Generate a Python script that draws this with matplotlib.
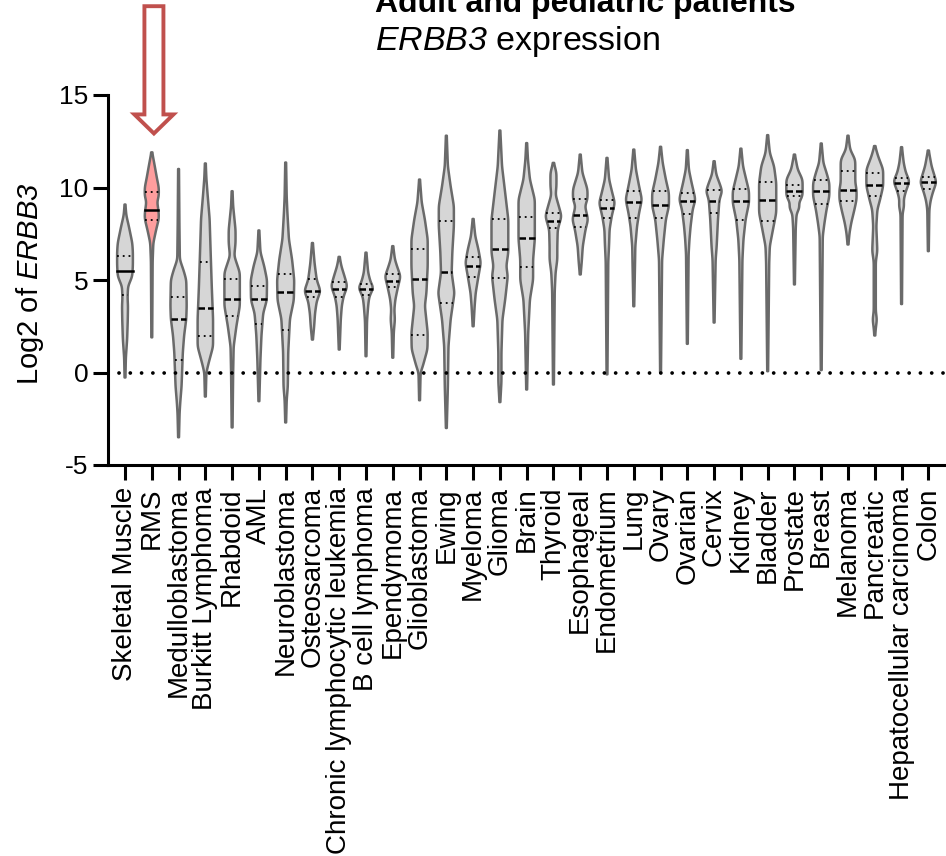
import numpy as np
import matplotlib
matplotlib.use('Agg')
import matplotlib.pyplot as plt
from matplotlib.patches import FancyArrow

plt.rcParams['font.family'] = ['Liberation Sans', 'DejaVu Sans']
plt.rcParams['mathtext.fontset'] = 'custom'
plt.rcParams['mathtext.rm'] = 'Liberation Sans:italic'
plt.rcParams['mathtext.it'] = 'Liberation Sans:italic'
plt.rcParams['mathtext.bf'] = 'Liberation Sans:bold'

# ---------------- data ----------------
categories = ["Skeletal Muscle", "RMS", "Medulloblastoma", "Burkitt Lymphoma", "Rhabdoid",
              "AML", "Neuroblastoma", "Osteosarcoma", "Chronic lymphocytic leukemia",
              "B cell lymphoma", "Ependymoma", "Glioblastoma", "Ewing", "Myeloma", "Glioma",
              "Brain", "Thyroid", "Esophageal", "Endometrium", "Lung", "Ovary", "Ovarian",
              "Cervix", "Kidney", "Bladder", "Prostate", "Breast", "Melanoma", "Pancreatic",
              "Hepatocellular carcinoma", "Colon"]

medians = [5.46, 8.8, 2.9, 3.5, 4.0, 4.0, 4.34, 4.38, 4.52, 4.52, 4.94, 5.03, 5.42, 5.75, 6.65,
           7.28, 8.2, 8.49, 8.9, 9.2, 9.08, 9.26, 9.26, 9.26, 9.33, 9.8, 9.8, 9.86, 10.16, 10.25, 10.29]
q1 = [4.2, 8.23, 0.65, 1.96, 3.08, 2.6, 2.3, 4.07, 4.1, 4.2, 4.6, 2.05, 3.77, 5.15, 5.1,
      5.7, 7.8, 7.86, 8.36, 8.36, 8.36, 8.58, 8.6, 8.27, 8.18, 9.53, 9.12, 9.26, 9.53, 9.8, 9.93]
q3 = [6.32, 9.75, 4.07, 5.96, 5.08, 4.7, 5.35, 5.08, 4.9, 4.77, 5.33, 6.65, 8.18, 6.25, 8.3,
      8.4, 8.63, 9.39, 9.3, 9.8, 9.8, 9.68, 9.84, 9.9, 10.3, 10.14, 10.38, 10.88, 10.8, 10.52, 10.58]

# density profiles: (log2 value, relative density); first/last entries are max/min
profiles = [
    [(9.08,0.05),(8.5,0.15),(7.9,0.45),(7.0,0.85),(6.5,0.92),(5.8,0.92),(5.2,0.85),(4.65,0.35),(4.0,0.3),(3.6,0.35),(2.8,0.32),(1.8,0.25),(0.8,0.1),(-0.27,0.05)],
    [(11.9,0.05),(11.15,0.35),(10.5,0.6),(10.0,0.82),(9.5,0.82),(9.26,0.62),(8.6,0.82),(8.3,0.82),(7.7,0.5),(7.0,0.18),(6.0,0.1),(1.9,0.05)],
    [(11.0,0.05),(8.0,0.1),(6.1,0.15),(5.5,0.6),(5.0,0.9),(3.6,0.95),(2.9,0.9),(2.0,0.65),(1.1,0.5),(-0.75,0.35),(-1.6,0.2),(-2.2,0.12),(-3.5,0.05)],
    [(11.3,0.05),(10.5,0.12),(9.7,0.25),(8.3,0.5),(6.5,0.62),(4.65,0.75),(2.9,0.9),(1.4,0.9),(0.54,0.4),(0.0,0.12),(-1.3,0.05)],
    [(9.8,0.05),(9.0,0.12),(7.7,0.4),(7.0,0.4),(6.3,0.25),(5.4,0.9),(3.6,0.9),(2.5,0.5),(1.4,0.18),(0.0,0.12),(-2.97,0.05)],
    [(7.68,0.05),(6.5,0.18),(5.75,0.62),(5.0,0.95),(3.9,0.92),(3.2,0.5),(2.0,0.3),(0.7,0.18),(-1.55,0.05)],
    [(11.35,0.05),(9.5,0.12),(8.65,0.2),(7.2,0.38),(6.1,0.75),(5.0,1.0),(3.9,0.95),(2.9,0.5),(1.1,0.3),(-0.75,0.25),(-1.5,0.12),(-2.7,0.05)],
    [(7.0,0.05),(5.9,0.25),(5.0,0.5),(4.4,0.95),(3.85,0.5),(3.2,0.3),(2.5,0.2),(2.1,0.12),(1.78,0.05)],
    [(6.25,0.05),(5.75,0.25),(5.2,0.62),(4.66,0.95),(4.1,0.5),(3.6,0.3),(2.86,0.18),(1.24,0.05)],
    [(6.48,0.05),(5.4,0.25),(4.86,0.55),(4.6,0.9),(4.1,0.38),(3.6,0.25),(2.8,0.12),(0.88,0.05)],
    [(6.83,0.05),(6.1,0.25),(5.57,0.62),(5.2,0.92),(4.66,0.62),(3.95,0.3),(3.4,0.18),(2.86,0.25),(2.2,0.12),(0.8,0.05)],
    [(10.43,0.05),(9.2,0.25),(8.27,0.62),(7.2,0.95),(5.75,0.95),(4.3,0.8),(3.6,0.62),(2.15,0.95),(1.25,0.92),(0.34,0.38),(0.0,0.12),(-1.5,0.05)],
    [(12.8,0.05),(11.15,0.18),(10.07,0.5),(9.0,0.88),(7.9,0.88),(6.5,0.7),(5.4,0.62),(4.3,0.95),(2.86,0.5),(1.42,0.25),(-0.74,0.18),(-3.0,0.05)],
    [(8.3,0.05),(7.37,0.25),(6.65,0.62),(5.93,0.9),(5.2,0.62),(4.3,0.3),(3.6,0.18),(2.5,0.05)],
    [(13.08,0.05),(11.15,0.25),(9.7,0.62),(8.27,0.98),(6.48,0.98),(5.75,0.75),(5.2,0.92),(3.95,0.62),(2.86,0.3),(1.06,0.18),(-0.5,0.18),(-1.6,0.05)],
    [(12.4,0.05),(11.5,0.15),(10.43,0.38),(9.35,0.95),(7.2,0.95),(6.1,0.75),(5.0,0.75),(3.95,0.38),(2.15,0.18),(-0.92,0.05)],
    [(11.33,0.05),(10.8,0.35),(10.07,0.35),(9.6,0.25),(9.0,0.62),(8.45,0.95),(7.73,0.5),(6.8,0.45),(6.1,0.45),(5.4,0.25),(4.4,0.15),(-0.65,0.05)],
    [(11.78,0.05),(10.8,0.25),(9.9,0.85),(9.35,0.85),(9.0,0.55),(8.27,0.92),(7.73,0.62),(6.83,0.3),(6.0,0.18),(5.3,0.05)],
    [(11.6,0.05),(10.43,0.25),(9.7,0.62),(9.17,0.92),(8.45,0.55),(7.73,0.3),(7.0,0.25),(6.0,0.15),(-0.1,0.05)],
    [(12.05,0.05),(10.97,0.25),(10.07,0.62),(9.35,0.95),(8.63,0.62),(7.9,0.38),(6.83,0.18),(6.0,0.15),(3.58,0.05)],
    [(12.2,0.05),(11.33,0.25),(10.43,0.62),(9.7,0.98),(9.0,0.98),(8.27,0.62),(7.2,0.38),(6.1,0.18),(0.0,0.05)],
    [(12.02,0.05),(10.97,0.18),(10.25,0.5),(9.35,0.95),(8.8,0.62),(7.9,0.38),(7.2,0.25),(6.4,0.15),(1.55,0.05)],
    [(11.42,0.05),(10.7,0.25),(10.25,0.62),(9.8,0.95),(9.35,0.62),(8.27,0.45),(6.83,0.3),(6.1,0.18),(2.7,0.05)],
    [(12.1,0.05),(11.15,0.25),(10.43,0.62),(9.8,0.95),(9.17,0.95),(8.27,0.55),(7.2,0.3),(6.1,0.18),(0.74,0.05)],
    [(12.83,0.05),(11.87,0.25),(11.15,0.75),(10.25,1.0),(8.63,1.0),(7.73,0.62),(6.83,0.25),(5.93,0.18),(0.07,0.05)],
    [(11.78,0.05),(10.97,0.38),(10.43,0.95),(9.53,0.95),(9.17,0.5),(8.9,0.62),(8.6,0.25),(7.8,0.15),(4.76,0.05)],
    [(12.38,0.05),(11.33,0.25),(10.8,0.62),(10.25,0.95),(9.53,0.95),(8.8,0.62),(8.09,0.38),(7.37,0.18),(0.13,0.05)],
    [(12.8,0.05),(12.05,0.25),(11.5,0.85),(10.25,0.85),(9.9,1.0),(9.35,1.0),(8.8,0.75),(8.09,0.38),(7.55,0.18),(6.92,0.05)],
    [(12.24,0.05),(11.7,0.38),(10.97,0.98),(10.07,0.98),(9.35,0.62),(8.8,0.3),(7.9,0.18),(6.56,0.3),(6.0,0.12),(3.3,0.12),(2.86,0.25),(2.4,0.12),(2.0,0.05)],
    [(12.18,0.05),(11.33,0.25),(10.8,0.5),(10.34,0.95),(9.8,0.5),(9.35,0.25),(9.0,0.3),(8.6,0.12),(3.7,0.05)],
    [(12.0,0.05),(11.15,0.38),(10.29,0.95),(9.7,0.5),(9.26,0.25),(8.8,0.12),(6.56,0.05)],
]

highlight = "RMS"
yticks = [-5, 0, 5, 10, 15]

# ---------------- style ----------------
MAXHW = 0.32
FILL = '#D6D6D6'
HFILL = '#FF9E9E'
EDGE = '#6A6A6A'

fig = plt.figure(figsize=(9.46, 8.56), dpi=100)
ax = fig.add_axes([108/946, 1-465/856, 1-108/946, 370/856])

def smooth_profile(prof):
    prof = sorted(prof)
    ys = np.array([p[0] for p in prof])
    ds = np.array([p[1] for p in prof])
    grid = np.linspace(ys[0], ys[-1], 500)
    w = np.interp(grid, ys, ds)
    step = grid[1] - grid[0]
    sig = 0.14
    n = max(1, int(3 * sig / step))
    k = np.arange(-n, n + 1) * step
    ker = np.exp(-0.5 * (k / sig) ** 2)
    ker /= ker.sum()
    wpad = np.pad(w, n, mode='edge')
    ws = np.convolve(wpad, ker, mode='valid')
    return grid, ws * MAXHW

for i, (cat, prof) in enumerate(zip(categories, profiles)):
    grid, hw = smooth_profile(prof)
    fc = HFILL if cat == highlight else FILL
    xs = np.r_[i - hw, (i + hw)[::-1]]
    ys = np.r_[grid, grid[::-1]]
    ax.fill(xs, ys, fc=fc, ec=EDGE, lw=1.8, joinstyle='round', zorder=2)
    # quartiles
    for q in (q1[i], q3[i]):
        w = np.interp(q, grid, hw)
        ax.plot([i - w, i + w], [q, q], color='black', lw=1.3,
                linestyle=(0, (1, 2.2)), zorder=3)
    w = np.interp(medians[i], grid, hw)
    ls = '-' if i < 2 else (0, (2.6, 1.2))
    ax.plot([i - w, i + w], [medians[i], medians[i]], color='black', lw=1.8,
            linestyle=ls, zorder=3)

xmin, xmax = -0.635, 30.66
ax.plot([-0.22, xmax], [0, 0], color='black', lw=2.7, linestyle=(0, (0.01, 3.0)),
        dash_capstyle='round', zorder=5, clip_on=False)

ax.set_xlim(xmin, xmax)
ax.set_ylim(-5, 15)
ax.set_yticks(yticks)
ax.set_yticklabels([str(t) for t in yticks], fontsize=19)
ax.set_xticks(range(len(categories)))
ax.set_xticklabels(categories, rotation=90, fontsize=20, ha='center', va='top')
for s in ('top', 'right'):
    ax.spines[s].set_visible(False)
for s in ('left', 'bottom'):
    ax.spines[s].set_linewidth(2.2)
ax.tick_params(axis='y', length=11, width=2.2, pad=3)
ax.tick_params(axis='x', length=11, width=2.2, pad=5)

ax.set_ylabel(r'Log2 of $ERBB3$', fontsize=21, va='center')
ax.yaxis.set_label_coords(-0.093, 0.49)

# arrow marking RMS
arr = FancyArrow(1.08, 19.8, 0, -(19.8 - 12.92), width=0.71, head_width=1.46,
                 head_length=1.03, length_includes_head=True, fc='white',
                 ec='#C0504D', lw=2.8, clip_on=False, zorder=6)
ax.add_patch(arr)

fig.text(375/946, 1 - 12/856, 'Adult and pediatric patients', fontsize=23,
         fontweight='bold', ha='left', va='baseline')
fig.text(375/946, 1 - 50/856, r'$ERBB3$ expression', fontsize=24.5,
         ha='left', va='baseline')

fig.savefig('out.png', dpi=100)
